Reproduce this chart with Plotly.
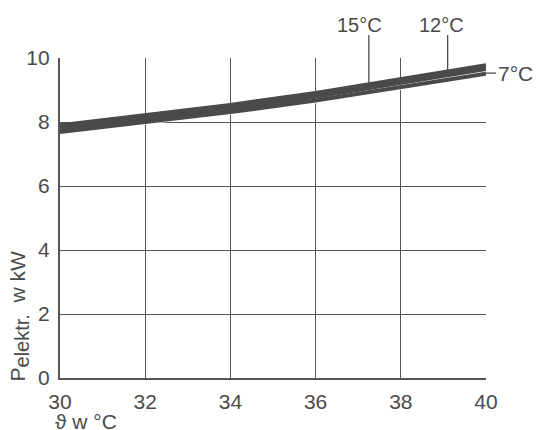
import plotly.graph_objects as go

# Supply water temperature (°C) on the x axis
t_supply = [30, 34, 36, 40]

# Electrical power input (kW) for three source temperatures
p_15 = [7.89, 8.53, 8.90, 9.77]
p_12 = [7.79, 8.42, 8.79, 9.66]
p_7 = [7.69, 8.31, 8.67, 9.51]

x_ticks = [30, 32, 34, 36, 38, 40]
y_ticks = [0, 2, 4, 6, 8, 10]

INK = "#4a4a4a"
GRID = "#555555"
FONT = "Liberation Sans, Arial, sans-serif"
Y_MAX = 10.0

fig = go.Figure()

# lowest curve first, with a faint white halo; the upper curves cover the
# halo wherever they sit close, so a seam only shows where the curves part
fig.add_trace(go.Scatter(x=t_supply, y=p_7, mode="lines",
                         line=dict(color="white", width=5.2),
                         hoverinfo="skip", showlegend=False))
fig.add_trace(go.Scatter(x=t_supply, y=p_7, mode="lines",
                         line=dict(color=INK, width=4),
                         hoverinfo="skip", showlegend=False))
for vals in (p_12, p_15):
    fig.add_trace(go.Scatter(x=t_supply, y=vals, mode="lines",
                             line=dict(color=INK, width=4.3),
                             hoverinfo="skip", showlegend=False))


def interp(xs, ys, x):
    for i in range(len(xs) - 1):
        if xs[i] <= x <= xs[i + 1]:
            f = (x - xs[i]) / (xs[i + 1] - xs[i])
            return ys[i] + f * (ys[i + 1] - ys[i])
    return ys[-1]


label_font = dict(family=FONT, size=20, color=INK)
label_y = 1.103      # paper height of the top labels
leader_top = 1.072   # paper height where the leaders start

# vertical leaders for the two upper curves
for name, vals, xpos, shift in (("15°C", p_15, 37.25, -9),
                                ("12°C", p_12, 39.1, -6)):
    y_end = interp(t_supply, vals, xpos) / Y_MAX
    fig.add_shape(type="line", xref="x", yref="paper",
                  x0=xpos, x1=xpos, y0=y_end, y1=leader_top,
                  line=dict(color=INK, width=1.3))
    fig.add_annotation(x=xpos, y=label_y, xref="x", yref="paper",
                       xshift=shift, yanchor="middle", showarrow=False,
                       text=name, font=label_font)

# side leader for the lowest curve
fig.add_annotation(x=40, y=p_7[-1] + 0.02, text="7°C", xref="x", yref="y",
                   showarrow=True, arrowhead=0, arrowwidth=1.3,
                   arrowcolor=INK, ax=10, ay=0, xanchor="left",
                   font=dict(family=FONT, size=21, color=INK))

# axis titles
fig.add_annotation(xref="paper", yref="paper", x=0, y=0, xshift=-41,
                   yshift=-6, xanchor="center", yanchor="bottom",
                   textangle=-90, showarrow=False,
                   text="P<sub><span style='font-size:20px'>elektr.</span></sub>"
                        "&nbsp;&nbsp;w kW",
                   font=dict(family=FONT, size=21, color=INK))
fig.add_annotation(xref="paper", yref="paper", x=0, y=0, yshift=-43,
                   xshift=-6, xanchor="left", yanchor="middle", borderpad=0,
                   showarrow=False, text="ϑ w °C",
                   font=dict(family=FONT, size=21, color=INK))

axis_common = dict(showgrid=True, gridcolor=GRID, gridwidth=1.4,
                   showline=True, linecolor=GRID, linewidth=2.2,
                   mirror=False, zeroline=False, ticks="", ticklen=0,
                   tickfont=dict(family=FONT, size=21, color=INK))

fig.update_xaxes(range=[30, 40], tickvals=x_ticks, ticklabelstandoff=4,
                 **axis_common)
fig.update_yaxes(range=[0, Y_MAX], tickvals=y_ticks, ticklabelstandoff=4,
                 **axis_common)

fig.update_layout(width=537, height=430,
                  margin=dict(l=60, r=51, t=58, b=52),
                  paper_bgcolor="white", plot_bgcolor="white",
                  showlegend=False)

fig.write_html("out.html")
